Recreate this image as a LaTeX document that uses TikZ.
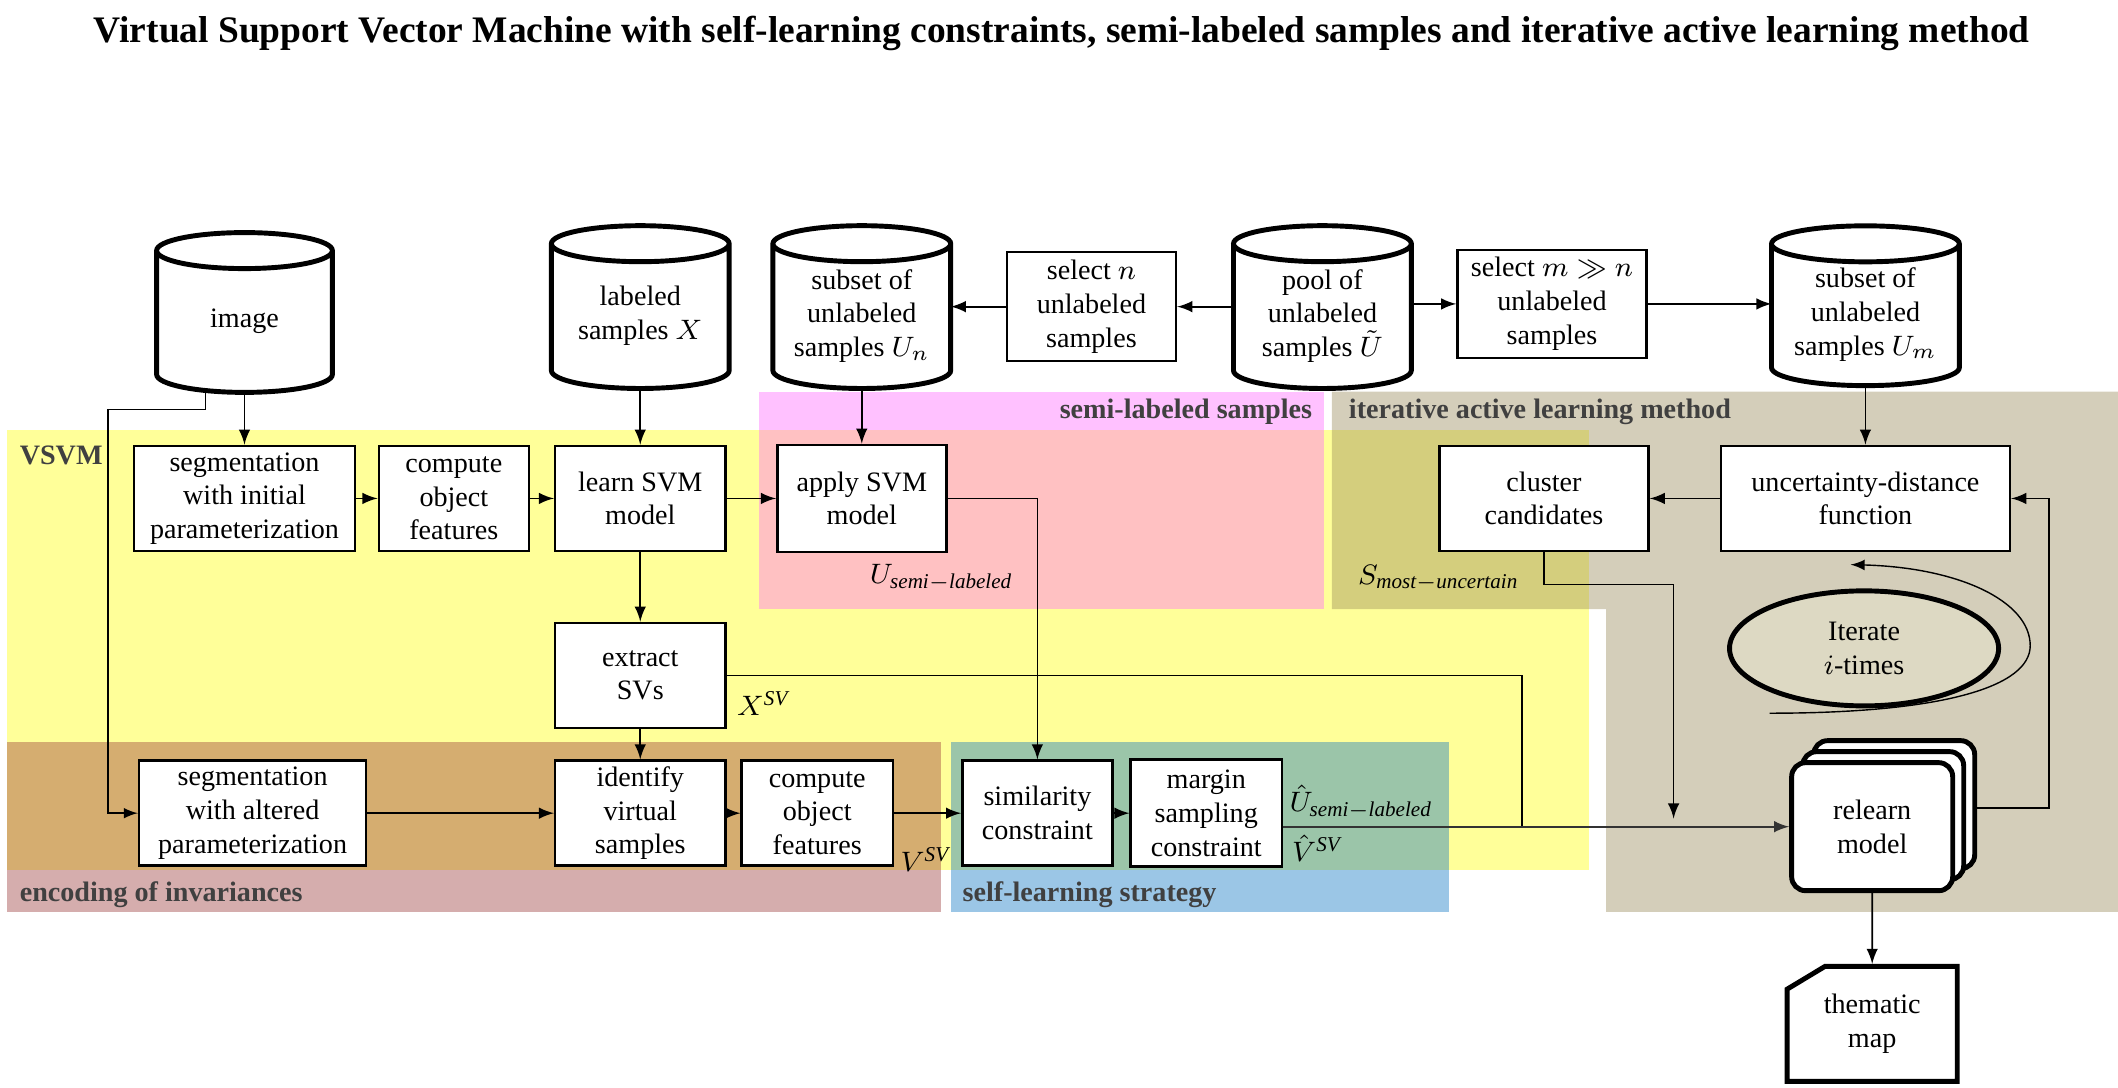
\documentclass[tikz,border=0pt]{standalone}
\usepackage{amssymb}
\usepackage{amsmath}
\usepackage{fontspec}
\setmainfont{Liberation Serif}
\usepackage{tikz}
\usetikzlibrary{%
	calc,%
	arrows,%
	shapes.geometric,%
	shapes.misc,%
	shadows
}
\definecolor{vsvmcol}{RGB}{255,255,0}
\definecolor{semicol}{RGB}{255,100,255}
\definecolor{activecol}{RGB}{148,133,83}
\definecolor{enccol}{RGB}{150,50,50}
\definecolor{selfcol}{RGB}{5,112,192}
\definecolor{grptext}{RGB}{64,64,64}
\definecolor{itercol}{RGB}{221,217,195}
\tikzset{
	box/.style={draw, fill=white, line width=0.7pt, align=center, inner sep=1pt, minimum height=1.05cm, font=\fontsize{8}{9.6}\selectfont},
	store/.style={rectangle, align=center, inner sep=1pt, minimum width=1.76cm, minimum height=1.43cm, font=\fontsize{8}{9.6}\selectfont},
	grp/.style={font=\fontsize{8}{9.6}\selectfont\bfseries, text=grptext, inner sep=0pt},
	lbl/.style={font=\fontsize{8}{9.6}\selectfont, inner sep=0pt},
	region/.style={fill opacity=0.4}
}

\begin{document}
\begin{tikzpicture}[x=0.0135cm, y=-0.0135cm, >=latex, line width=0.5pt]
	\useasboundingbox (0,0) rectangle (1568,805);
	% coloured groups
	\fill[vsvmcol, region] (5,318) rectangle (1176,644);
	\fill[semicol, region] (562,290) rectangle (980,451);
	\fill[activecol, region] (986,290) -- (1568,290) -- (1568,675) -- (1189,675) -- (1189,451) -- (986,451) -- cycle;
	\fill[enccol, region] (5,549) rectangle (697,675);
	\fill[selfcol, region] (704,549) rectangle (1073,675);
	\node[grp, anchor=west] (gvsvm) at (14,337) {VSVM};
	\node[grp, anchor=east] (gsemi) at (972,305) {semi-labeled samples};
	\node[grp, anchor=west] (gactive) at (998,305) {iterative active learning method};
	\node[grp, anchor=west] (genc) at (14,662) {encoding of invariances};
	\node[grp, anchor=west] (gself) at (712,662) {self-learning strategy};

	\node[font=\fontsize{10.65}{12.8}\selectfont\bfseries] (title) at (786,25) {Virtual Support Vector Machine with self-learning constraints, semi-labeled samples and iterative active learning method};

	% data
	\node[store, minimum width=1.74cm, minimum height=1.40cm] (img) at (181,238) {image};
	\node[store] (lab) at (474,234) {labeled\\samples $X$};
	\node[store] (subn) at (638,234) {subset of\\unlabeled\\samples $U_n$};
	\node[store] (pool) at (979,234) {pool of\\unlabeled\\samples $\tilde{U}$};
	\node[store, minimum width=1.86cm, minimum height=1.40cm] (subm) at (1381,233) {subset of\\unlabeled\\samples $U_m$};
	\foreach \s in {img,lab,subn,pool,subm}{
		\draw[line width=1.4pt] let \p1=($(\s.east)-(\s.west)$) in
			(\s.north west) -- ([yshift=0.18cm]\s.south west)
			arc[start angle=180, end angle=360, x radius=0.5*\x1, y radius=0.18cm]
			-- (\s.north east)
			arc[start angle=0, end angle=360, x radius=0.5*\x1, y radius=0.18cm];
	}
	\node[box, minimum width=1.69cm, minimum height=1.09cm] (seln) at (808,227) {select $n$\\unlabeled\\samples};
	\node[box, minimum width=1.89cm, minimum height=1.08cm] (selm) at (1149,225) {select $m \gg n$\\unlabeled\\samples};

	% steps
	\node[box, minimum width=2.21cm] (seginit) at (181,369) {segmentation\\with initial\\parameterization};
	\node[box, minimum width=1.50cm] (comp1) at (336,369) {compute\\object\\features};
	\node[box, minimum width=1.70cm] (learn) at (474,369) {learn SVM\\model};
	\node[box, minimum width=1.69cm, minimum height=1.07cm] (apply) at (638,369) {apply SVM\\model};
	\node[box, minimum width=2.09cm] (cluster) at (1143,369) {cluster\\candidates};
	\node[box, minimum width=2.89cm] (uncert) at (1381,369) {uncertainty-distance\\function};
	\node[box, minimum width=1.70cm] (extract) at (474,500) {extract\\SVs};
	\node[ellipse, draw, fill=itercol, line width=1.4pt, minimum width=2.69cm, minimum height=1.15cm, align=center, inner sep=1pt, font=\fontsize{8}{9.6}\selectfont] (iter) at (1380,480) {Iterate\\$i$-times};
	\node[box, minimum width=2.27cm] (segalt) at (187,602) {segmentation\\with altered\\parameterization};
	\node[box, minimum width=1.70cm] (ident) at (474,602) {identify\\virtual\\samples};
	\node[box, minimum width=1.51cm] (comp2) at (605,602) {compute\\object\\features};
	\node[box, minimum width=1.50cm] (simil) at (768,602) {similarity\\constraint};
	\node[box, minimum width=1.51cm, minimum height=1.07cm] (margin) at (893,602) {margin\\sampling\\constraint};
	\node[box, rounded corners=0.14cm, line width=1.4pt, minimum width=1.61cm, minimum height=1.28cm,
		double copy shadow={shadow xshift=0.11cm, shadow yshift=0.11cm, draw, fill=white, line width=1.4pt}] (relearn) at (1386,612) {relearn\\model};
	\node[box, chamfered rectangle, chamfered rectangle corners=north west, chamfered rectangle angle=59, chamfered rectangle xsep=0.2cm, line width=1.4pt, minimum width=1.70cm, minimum height=1.15cm] (map) at (1386,758) {thematic\\map};

	% sets
	\node[lbl] (usemi) at (697,428) {$U_{\mathit{semi}-\mathit{labeled}}$};
	\node[lbl] (xsv) at (565,521) {$X^{\mathit{SV}}$};
	\node[lbl] (vsv) at (685,636) {$V^{\mathit{SV}}$};
	\node[lbl, anchor=west] (uhat) at (954,594) {$\hat{U}_{\mathit{semi}-\mathit{labeled}}$};
	\node[lbl, anchor=west] (vhat) at (956,628) {$\hat{V}^{\mathit{SV}}$};
	\node[lbl] (smost) at (1065,428) {$S_{\mathit{most}-\mathit{uncertain}}$};

	% flow
	\coordinate (imgbend) at (80,303);
	\draw[->, line width=0.4pt] ([xshift=-0.39cm]img.south) |- (imgbend) |- (segalt);
	\draw[->] (img) -- (seginit);
	\draw[->] (seginit) -- (comp1);
	\draw[->] (comp1) -- (learn);
	\draw[->] (lab) -- (learn);
	\draw[->] (learn) -- (apply);
	\draw[->] (subn) -- (apply);
	\draw[->] (pool.west |- seln.east) -- (seln.east);
	\draw[->] (seln.west) -- (seln.west -| subn.east);
	\draw[->] (pool.east |- selm.west) -- (selm.west);
	\draw[->] (selm.east) -- (selm.east -| subm.west);
	\draw[->] (subm) -- (uncert);
	\draw[->] (uncert) -- (cluster);
	\draw[->] (learn) -- (extract);
	\draw[->] (extract) -- (ident);
	\draw[->] (segalt) -- (ident);
	\draw[->] (ident) -- (comp2);
	\draw[->] (comp2) -- (simil);
	\draw[->] (simil) -- (margin);
	\draw[->] (apply) -| (simil);
	\coordinate (join) at (1127,612);
	\draw (extract) -| (join);
	\draw[->, black!80] (margin.east |- relearn.west) -- (relearn);
	\coordinate (drop) at (1239,606);
	\draw[->] (cluster.south) -- ++(0,24) -| (drop);
	\coordinate (loopR) at (1517,369);
	\draw[->] ([xshift=0.22cm, yshift=0.19cm]relearn.east) -| (loopR) -- (uncert);
	\draw[->] (relearn) -- (map);
	% loop round the iteration
	\coordinate (loopA) at (1310,528);
	\coordinate (loopB) at (1370,418);
	\draw[->, line width=0.4pt] (loopA) .. controls (1440,528) and (1503,508) .. (1503,478) .. controls (1503,445) and (1450,420) .. (loopB);
\end{tikzpicture}
\end{document}
